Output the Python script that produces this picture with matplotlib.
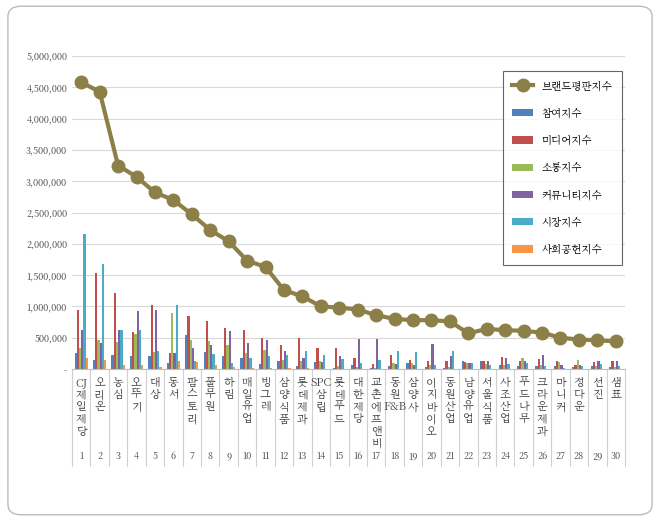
import matplotlib
matplotlib.use("Agg")
import matplotlib.pyplot as plt
import numpy as np
from matplotlib.patches import FancyBboxPatch
import matplotlib.transforms as mtrans
from matplotlib import font_manager as fm

cjk = [f.name for f in fm.fontManager.ttflist if "CJK" in f.name]
pref = [n for n in cjk if "KR" in n] + cjk
plt.rcParams["font.family"] = (pref[:1] if pref else []) + ["DejaVu Sans"]

categories = ["CJ제일제당", "오리온", "농심", "오뚜기", "대상", "동서", "팜스토리", "풀무원", "하림", "매일유업",
              "빙그레", "삼양식품", "롯데제과", "SPC삼립", "롯데푸드", "대한제당", "교촌에프앤비", "동원F&B", "삼양사", "이지바이오",
              "동원산업", "남양유업", "서울식품", "사조산업", "푸드나무", "크라운제과", "마니커", "정다운", "선진", "샘표"]
participation = [250e3, 140e3, 220e3, 210e3, 200e3, 100e3, 550e3, 270e3, 210e3, 180e3, 80e3, 130e3, 40e3, 110e3, 20e3,
                 60e3, 10e3, 50e3, 100e3, 30e3, 20e3, 130e3, 130e3, 60e3, 40e3, 50e3, 50e3, 30e3, 50e3, 30e3]
media = [950e3, 1530e3, 1220e3, 590e3, 1020e3, 250e3, 850e3, 760e3, 650e3, 630e3, 500e3, 390e3, 490e3, 340e3, 340e3,
         170e3, 80e3, 230e3, 140e3, 120e3, 120e3, 110e3, 130e3, 190e3, 120e3, 160e3, 120e3, 60e3, 110e3, 130e3]
social = [330e3, 460e3, 430e3, 560e3, 270e3, 890e3, 470e3, 440e3, 380e3, 250e3, 300e3, 150e3, 120e3, 130e3, 40e3,
          30e3, 20e3, 100e3, 100e3, 60e3, 30e3, 100e3, 80e3, 60e3, 180e3, 60e3, 110e3, 140e3, 40e3, 30e3]
community = [630e3, 420e3, 620e3, 930e3, 940e3, 250e3, 340e3, 380e3, 600e3, 410e3, 470e3, 290e3, 180e3, 110e3, 210e3,
             480e3, 480e3, 80e3, 70e3, 400e3, 200e3, 90e3, 130e3, 170e3, 120e3, 230e3, 70e3, 60e3, 120e3, 120e3]
market = [2150e3, 1670e3, 620e3, 630e3, 290e3, 1030e3, 120e3, 240e3, 100e3, 180e3, 200e3, 220e3, 290e3, 230e3, 160e3,
          90e3, 150e3, 280e3, 270e3, 60e3, 290e3, 100e3, 60e3, 80e3, 90e3, 40e3, 10e3, 40e3, 80e3, 50e3]
contribution = [170e3, 140e3, 70e3, 70e3, 30e3, 120e3, 110e3, 60e3, 30e3, 20e3, 20e3, 15e3, 10e3, 5e3, 5e3,
                5e3, 5e3, 5e3, 5e3, 5e3, 5e3, 5e3, 5e3, 5e3, 5e3, 5e3, 5e3, 5e3, 5e3, 5e3]
brand = [4580e3, 4430e3, 3250e3, 3070e3, 2820e3, 2700e3, 2470e3, 2220e3, 2040e3, 1730e3, 1630e3, 1260e3, 1160e3, 1000e3, 980e3,
         950e3, 860e3, 800e3, 780e3, 780e3, 760e3, 570e3, 640e3, 620e3, 610e3, 580e3, 500e3, 470e3, 460e3, 440e3]

series = [("참여지수", participation, "#4F81BD"), ("미디어지수", media, "#C0504D"), ("소통지수", social, "#9BBB59"),
          ("커뮤니티지수", community, "#8064A2"), ("시장지수", market, "#4BACC6"), ("사회공헌지수", contribution, "#F79646")]

fig = plt.figure(figsize=(6.6, 5.21), dpi=100)
fig.patches.append(FancyBboxPatch((0.012, 0.012), 0.976, 0.976, boxstyle="round,pad=0,rounding_size=0.02",
                                  transform=fig.transFigure, fill=False, ec="#BBBBBB", lw=1))
ax = fig.add_axes([72/660, 1-369/521, 553/660, 313/521])
x = np.arange(1, 31)
w = 0.12
for i, (name, vals, c) in enumerate(series):
    ax.bar(x + (i - 2.5) * w, vals, w, color=c, label=name, zorder=2)
ax.plot(x, brand, color="#8C7F47", lw=3, marker="o", ms=9, label="브랜드평판지수", zorder=3)

ax.set_xlim(0.5, 30.5)
ax.set_ylim(0, 5000000)
ax.set_yticks(np.arange(0, 5000001, 500000))
ax.set_yticklabels(["-"] + [f"{int(v):,}" for v in np.arange(500000, 5000001, 500000)], fontsize=6.5, color="#404040")
ax.grid(axis="y", color="#D9D9D9", lw=0.8, zorder=0)
for s in ["top", "right", "left"]:
    ax.spines[s].set_visible(False)
ax.spines["bottom"].set_color("#BFBFBF")
ax.tick_params(axis="y", length=0)
ax.set_xticks([])

tr = mtrans.blended_transform_factory(ax.transData, ax.transAxes)
for k in range(31):
    ax.plot([k + 0.5, k + 0.5], [0, -0.31], color="#D0D0D0", lw=0.8, transform=tr, clip_on=False)
for k, name in enumerate(categories):
    parts = []
    j = 0
    while j < len(name):
        if name[j].isascii():
            seg = ""
            while j < len(name) and name[j].isascii():
                seg += name[j]; j += 1
            parts.append(seg)
        else:
            parts.append(name[j]); j += 1
    fs = 8
    ax.text(k + 1, -0.025, "\n".join(parts), transform=tr, ha="center", va="top", fontsize=fs,
            color="#404040", linespacing=1.0)
    ax.text(k + 1, -0.28, str(k + 1), transform=tr, ha="center", va="center", fontsize=6.5, color="#404040")

h, l = ax.get_legend_handles_labels()
leg = ax.legend(h[:6] + [h[6]], l[:6] + [l[6]], loc="upper left", bbox_to_anchor=(0.77, 0.97), fontsize=7.5,
                frameon=True, fancybox=False, edgecolor="#404040", labelspacing=1.45, handlelength=2.0, borderpad=0.9)
leg.get_frame().set_linewidth(0.8)

fig.savefig("out.png", dpi=100)
